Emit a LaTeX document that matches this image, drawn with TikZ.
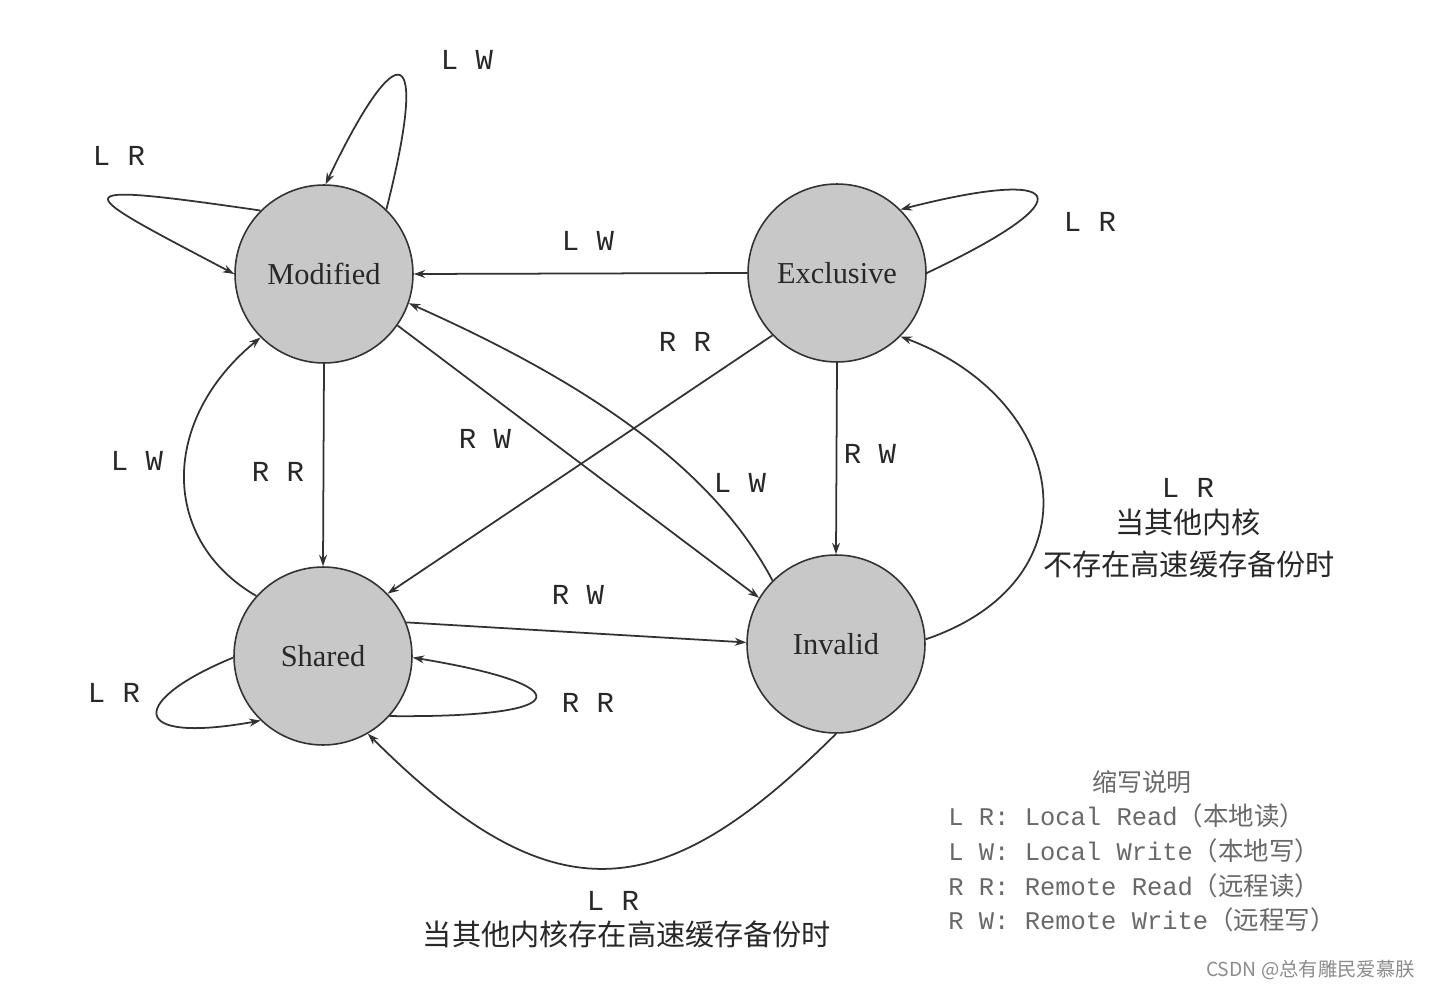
\documentclass[tikz,border=0pt]{standalone}
\usepackage{fontspec}
\setmainfont{Liberation Serif}
\newfontfamily\monof{Liberation Mono}
\newfontfamily\cjkf{Noto Sans CJK SC}
\usetikzlibrary{arrows.meta}
\definecolor{stategray}{RGB}{200,200,200}
\definecolor{linec}{RGB}{50,50,50}
\definecolor{txtc}{RGB}{40,40,40}
\definecolor{legc}{RGB}{105,105,105}
\definecolor{wmc}{RGB}{140,140,140}
\begin{document}
\begin{tikzpicture}[x=0.02cm,y=-0.02cm,
  state/.style={circle, draw=linec, line width=0.9pt, fill=stategray, minimum size=3.56cm, inner sep=0pt, font=\fontsize{17.3}{20}\selectfont, text=txtc},
  edge/.style={draw=linec, line width=1pt, -{Stealth[length=6.5pt,width=4.5pt]}},
  lab/.style={font=\monof\fontsize{16.5}{19}\selectfont, text=txtc, inner sep=1pt},
  cjk/.style={font=\cjkf\fontsize{16.6}{19}\selectfont, text=txtc, inner sep=1pt},
  leg/.style={font=\monof\fontsize{14.5}{17}\selectfont, text=legc, anchor=west, inner sep=0pt}
]
\useasboundingbox[fill=white] (0,0) rectangle (1430,990);

% states
\node[state] (M) at (324,274) {Modified};
\node[state] (E) at (837,273) {Exclusive};
\node[state] (S) at (323,656) {Shared};
\node[state] (I) at (836,644) {Invalid};

% self loops
\draw[edge] (M.46) .. controls (430,38) and (398,33) .. (M.89);
\draw[edge] (M.135) .. controls (50,180) and (75,190) .. (M.180);
\draw[edge] (E.0) .. controls (1092,195) and (1062,168) .. (E.45);
\draw[edge] (S.181) .. controls (130,700) and (125,745) .. (S.226);
\draw[edge] (S.-42) .. controls (580,718) and (580,685) .. (S.-1);

% straight transitions
\draw[edge] (E.180) -- (M.0);
\draw[edge] (E.224) -- (S.44);
\draw[edge] (M.-35) -- (I.149);
\draw[edge] (M.-90) -- (S.90);
\draw[edge] (E.-90) -- (I.90);
\draw[edge] (S.22) -- (I.179);

% curved transitions
\draw[edge] (I.135) .. controls (707,457) and (565,373) .. (M.-19);
\draw[edge] (S.138) .. controls (160,540) and (160,420) .. (M.225);
\draw[edge] (I.3) .. controls (1100,580) and (1070,400) .. (E.-45);
\draw[edge] (I.-90) .. controls (664,905) and (555,921) .. (S.-60);

% labels
\node[lab] (l1) at (467,60) {L W};
\node[lab] (l2) at (119,156) {L R};
\node[lab] (l3) at (588,241) {L W};
\node[lab] (l4) at (1090,222) {L R};
\node[lab] (l5) at (685,342) {R R};
\node[lab] (l6) at (485,439) {R W};
\node[lab, fill=white] (l7) at (740,483) {L W};
\node[lab] (l8) at (578,595) {R W};
\node[lab] (l9) at (278,472) {R R};
\node[lab] (l10) at (137,461) {L W};
\node[lab] (l11) at (870,454) {R W};
\node[lab] (l12) at (1188,488) {L R};
\node[cjk] (l13) at (1188,522) {当其他内核};
\node[cjk] (l14) at (1189,564) {不存在高速缓存备份时};
\node[lab] (l15) at (114,693) {L R};
\node[lab] (l16) at (588,703) {R R};
\node[lab] (l17) at (613,901) {L R};
\node[cjk] (l18) at (627,934) {当其他内核存在高速缓存备份时};

% legend
\node[font=\cjkf\fontsize{14.2}{17}\selectfont, text=legc, inner sep=0pt] (lt) at (1142,782) {缩写说明};
\node[leg] (g1) at (948,816) {L R: Local Read{\cjkf （本地读）}};
\node[leg] (g2) at (948,851) {L W: Local Write{\cjkf （本地写）}};
\node[leg] (g3) at (948,886) {R R: Remote Read{\cjkf （远程读）}};
\node[leg] (g4) at (948,920) {R W: Remote Write{\cjkf （远程写）}};

% watermark
\node[font=\cjkf\fontsize{11}{13}\selectfont, text=wmc, inner sep=0pt, anchor=east] (wm) at (1415,970) {CSDN @总有雕民爱慕朕};
\end{tikzpicture}
\end{document}
